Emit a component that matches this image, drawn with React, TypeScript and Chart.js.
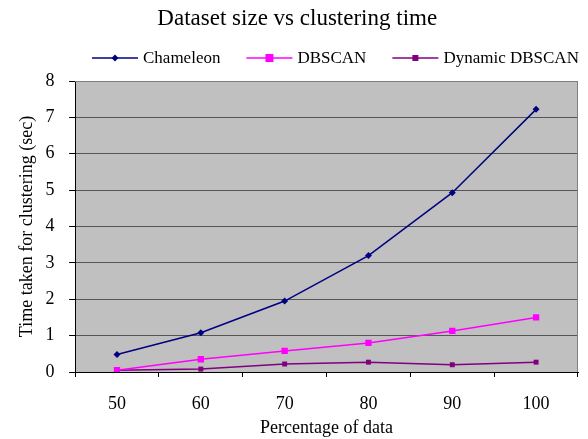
import React, { useEffect, useRef } from "react";
import { Chart, registerables } from "chart.js";

Chart.register(...registerables);

const categories = ["50", "60", "70", "80", "90", "100"];
const chameleon = [0.48, 1.08, 1.95, 3.2, 4.93, 7.22];
const dbscan = [0.05, 0.35, 0.58, 0.8, 1.13, 1.5];
const dynamicDbscan = [0.05, 0.08, 0.22, 0.27, 0.2, 0.27];
const seriesNames = ["Chameleon", "DBSCAN", "Dynamic DBSCAN"];
const seriesColors = ["#000080", "#FF00FF", "#800080"];

const FONT = "'Liberation Serif', 'Times New Roman', serif";

function drawMarker(ctx: CanvasRenderingContext2D, kind: number, x: number, y: number, color: string) {
  ctx.fillStyle = color;
  ctx.beginPath();
  if (kind === 0) {
    const r = 3.5;
    ctx.moveTo(x, y - r);
    ctx.lineTo(x + r, y);
    ctx.lineTo(x, y + r);
    ctx.lineTo(x - r, y);
    ctx.closePath();
    ctx.fill();
  } else if (kind === 1) {
    ctx.fillRect(x - 4, y - 4, 8, 8);
  } else {
    ctx.fillRect(x - 3, y - 3, 6, 6);
  }
}

const legendPlugin = {
  id: "excelLegend",
  afterDraw(chart: any) {
    const { ctx } = chart;
    ctx.save();
    ctx.font = `17px ${FONT}`;
    ctx.textBaseline = "middle";
    ctx.textAlign = "left";
    const y = 58;
    let x = 92;
    chart.data.datasets.forEach((ds: any, i: number) => {
      const color = seriesColors[i];
      ctx.strokeStyle = color;
      ctx.lineWidth = 1.5;
      ctx.beginPath();
      ctx.moveTo(x, y);
      ctx.lineTo(x + 46, y);
      ctx.stroke();
      drawMarker(ctx, i, x + 23, y, color);
      ctx.fillStyle = "#000";
      ctx.fillText(ds.label, x + 51, y + 1);
      x += 51 + ctx.measureText(ds.label).width + 26;
    });
    ctx.restore();
  },
};

const bgPlugin = {
  id: "plotBg",
  beforeDraw(chart: any) {
    const { ctx, chartArea } = chart;
    ctx.save();
    ctx.fillStyle = "#C0C0C0";
    ctx.fillRect(chartArea.left, chartArea.top, chartArea.right - chartArea.left, chartArea.bottom - chartArea.top);
    ctx.restore();
  },
  afterDatasetsDraw(chart: any) {
    const { ctx, chartArea } = chart;
    ctx.save();
    ctx.strokeStyle = "#808080";
    ctx.lineWidth = 1;
    ctx.beginPath();
    ctx.moveTo(chartArea.left, chartArea.top + 0.5);
    ctx.lineTo(chartArea.right - 0.5, chartArea.top + 0.5);
    ctx.lineTo(chartArea.right - 0.5, chartArea.bottom);
    ctx.stroke();
    ctx.restore();
  },
};

export default function App() {
  const ref = useRef<HTMLCanvasElement>(null);
  useEffect(() => {
    document.body.style.margin = "0";
    const chart = new Chart(ref.current!, {
      type: "line",
      data: {
        labels: categories,
        datasets: [
          {
            label: seriesNames[0],
            data: chameleon,
            borderColor: seriesColors[0],
            backgroundColor: seriesColors[0],
            borderWidth: 1.5,
            pointStyle: "rectRot",
            pointRadius: 3.5,
            pointBorderWidth: 0,
          },
          {
            label: seriesNames[1],
            data: dbscan,
            borderColor: seriesColors[1],
            backgroundColor: seriesColors[1],
            borderWidth: 1.5,
            pointStyle: "rect",
            pointRadius: 4.5,
            pointBorderWidth: 0,
          },
          {
            label: seriesNames[2],
            data: dynamicDbscan,
            borderColor: seriesColors[2],
            backgroundColor: seriesColors[2],
            borderWidth: 1.5,
            pointStyle: "rect",
            pointRadius: 3.5,
            pointBorderWidth: 0,
          },
        ],
      },
      options: {
        animation: false,
        responsive: false,
        layout: { padding: { left: 16.5, right: 10, top: 4, bottom: 0.4 } },
        plugins: {
          title: {
            display: true,
            text: "Dataset size vs clustering time",
            color: "#000",
            font: { family: FONT, size: 23, weight: "normal" },
            padding: { top: 1, bottom: 48.4 },
          },
          legend: { display: false },
          tooltip: { enabled: false },
        },
        scales: {
          x: {
            type: "category",
            offset: true,
            grid: {
              offset: true,
              drawOnChartArea: false,
              drawTicks: true,
              tickLength: 5,
              color: "#000",
            },
            border: { color: "#000" },
            ticks: { color: "#000", font: { family: FONT, size: 18 }, padding: 16.2 },
            title: {
              display: true,
              text: "Percentage of data",
              color: "#000",
              font: { family: FONT, size: 18 },
              padding: { top: -14, bottom: 0 },
            },
          },
          y: {
            min: 0,
            max: 8,
            ticks: { stepSize: 1, color: "#000", font: { family: FONT, size: 18 }, padding: 14.5 },
            grid: { color: "#555555", tickLength: 6, tickColor: "#000" },
            border: { color: "#000" },
            title: {
              display: true,
              text: "Time taken for clustering (sec)",
              color: "#000",
              font: { family: FONT, size: 18 },
              padding: { top: 0, bottom: -7 },
            },
          },
        },
      },
      plugins: [bgPlugin, legendPlugin],
    } as any);
    return () => chart.destroy();
  }, []);
  return (
    <div style={{ position: "absolute", left: 0, top: 0, width: 588, height: 439 }}>
      <canvas ref={ref} width={588} height={439} style={{ width: 588, height: 439 }} />
    </div>
  );
}
